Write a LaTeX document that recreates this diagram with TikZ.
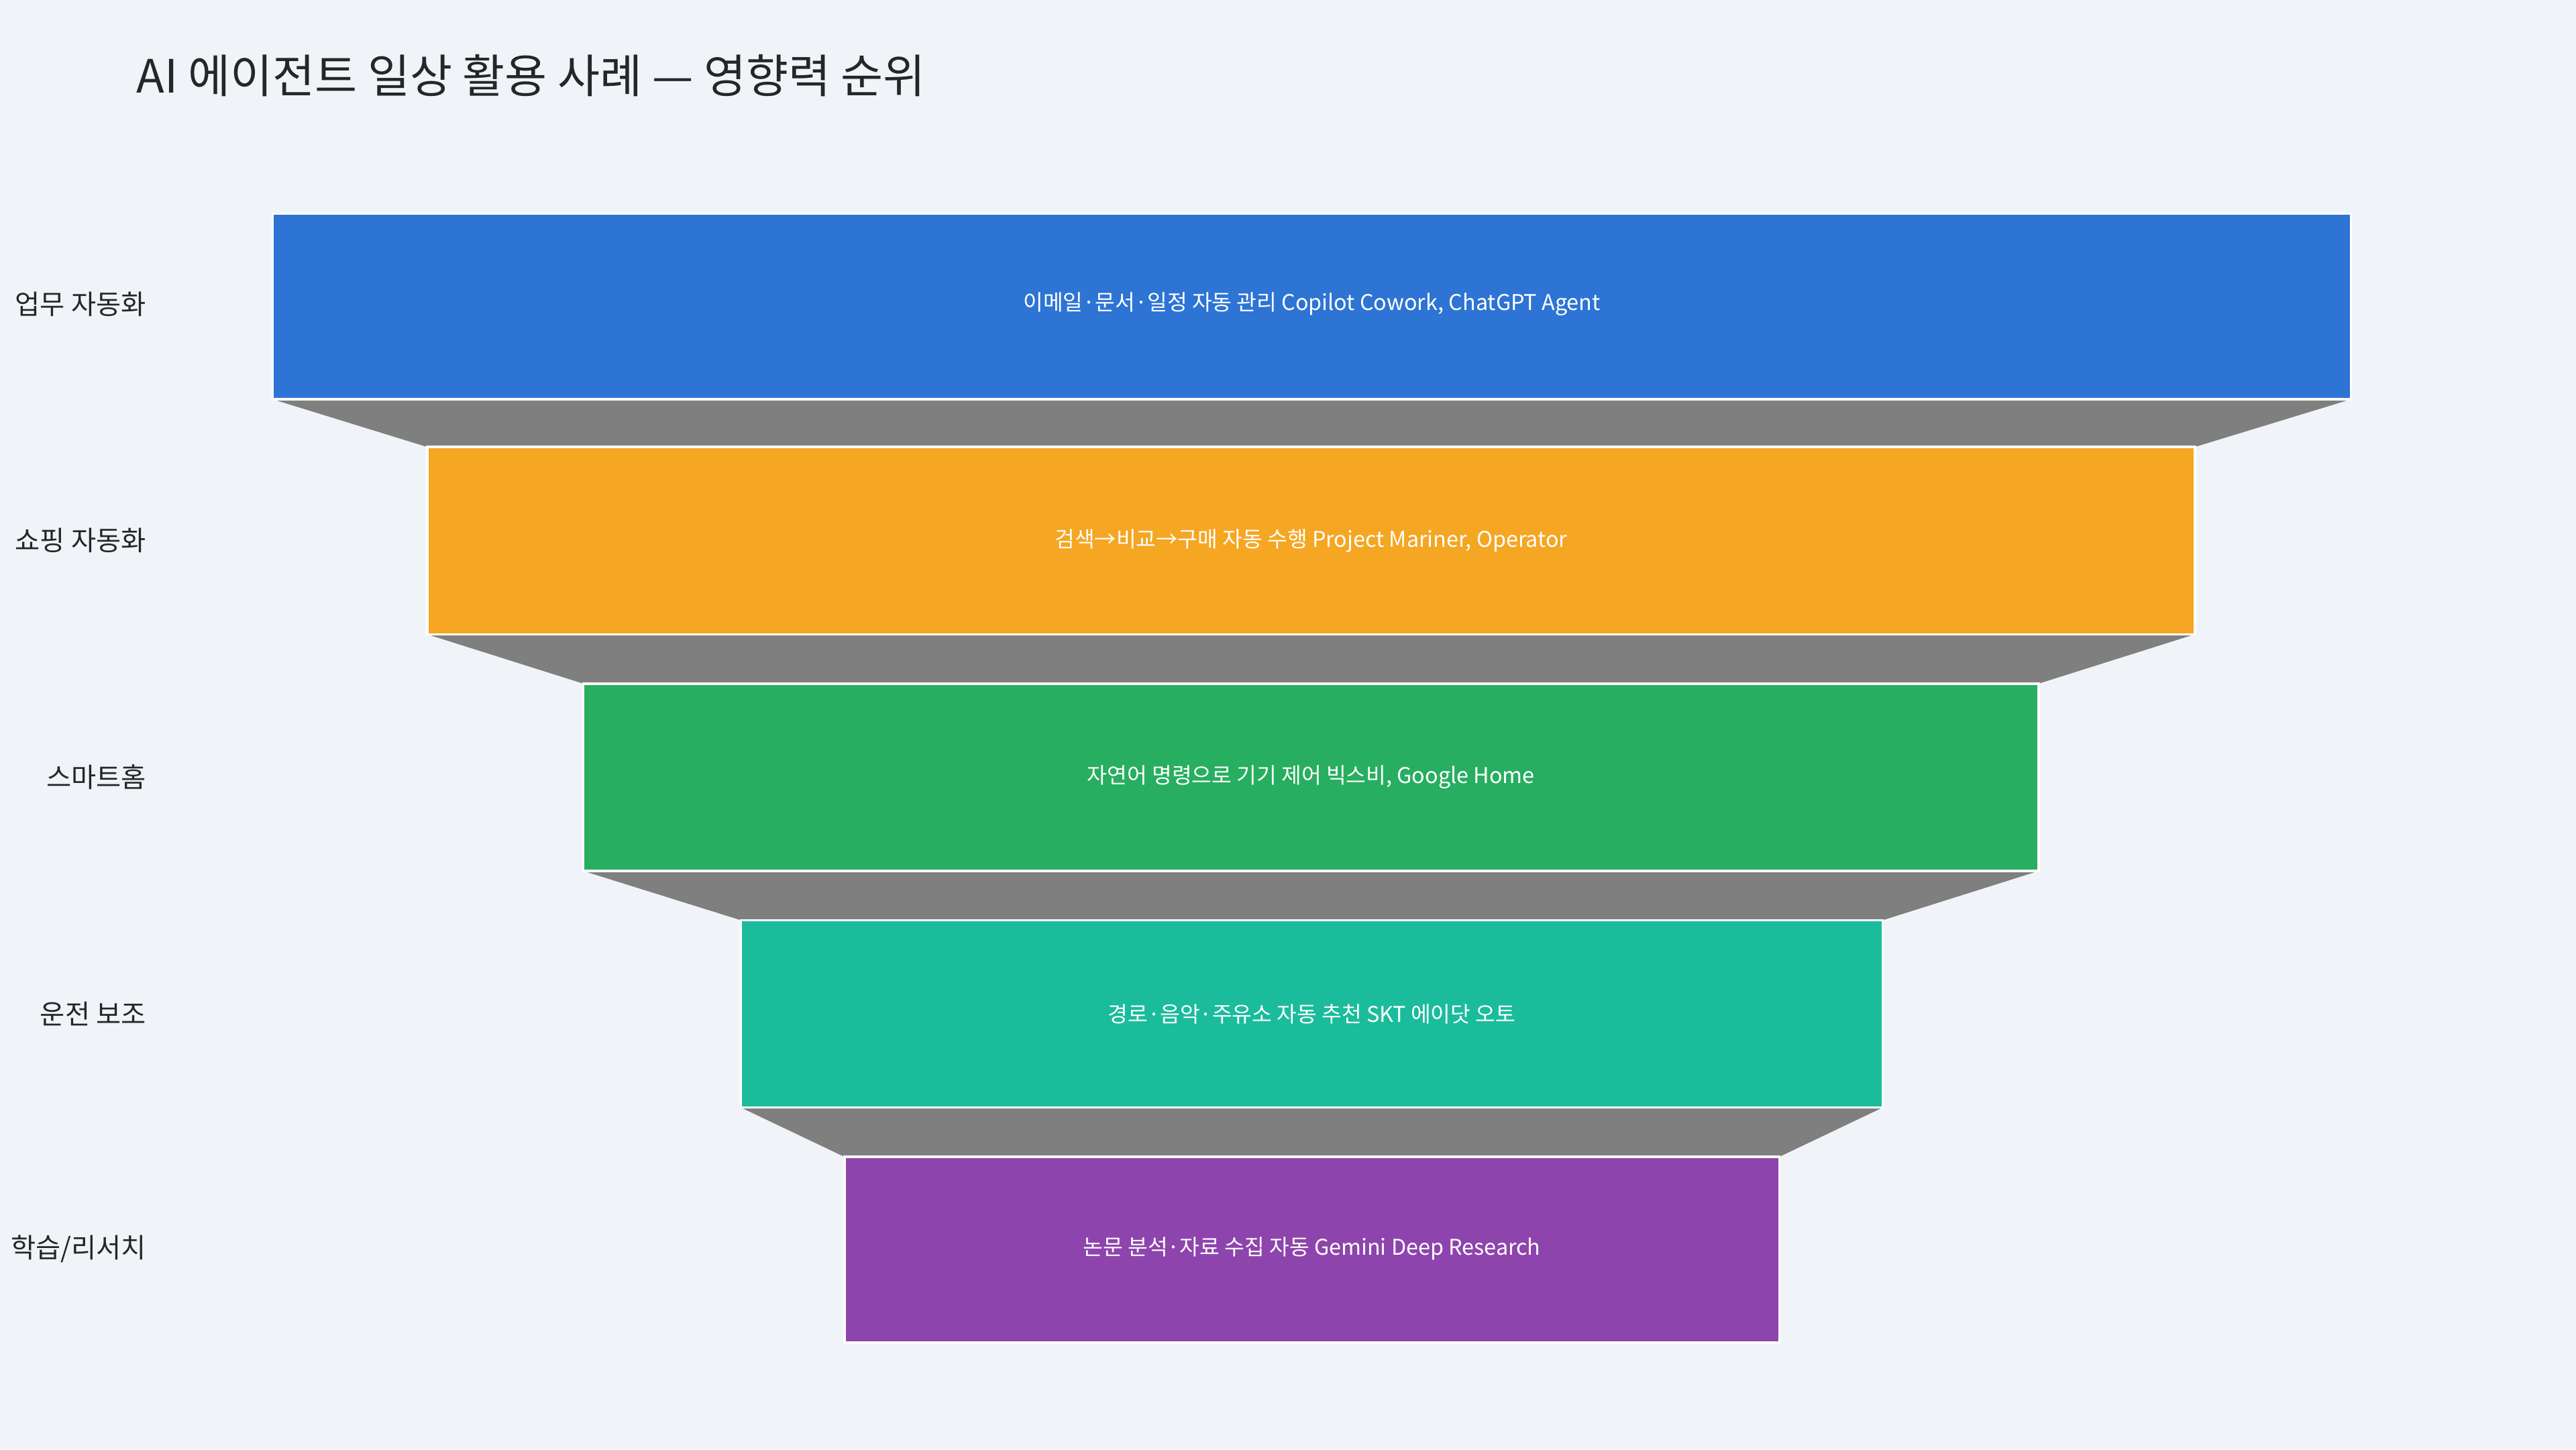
\documentclass[tikz,border=0pt]{standalone}
\usepackage{fontspec}
\setmainfont{Noto Sans CJK KR}
\begin{document}
\begin{tikzpicture}[x=0.024490cm,y=-0.024490cm,
  bar/.style={draw=white,line width=1pt},
  conn/.style={fill=gray!50!black!60,fill=black!50,draw=none},
  lab/.style={anchor=east,font=\fontsize{11.5}{13}\selectfont,text=black!85},
  btxt/.style={text=white,font=\fontsize{9.2}{11}\selectfont}]
\fill[fill={rgb,255:red,240;green,244;blue,248}] (0,0) rectangle (1568,882);
\useasboundingbox (0,0) rectangle (1568,882);
\node[anchor=west,font=\fontsize{19.5}{22}\selectfont,text=black!85] (title) at (78,46) {AI 에이전트 일상 활용 사례 — 영향력 순위};
\definecolor{c1}{HTML}{2D74D4}\definecolor{c2}{HTML}{F5A623}\definecolor{c3}{HTML}{27AE60}
\definecolor{c4}{HTML}{1ABC9C}\definecolor{c5}{HTML}{8E44AD}\definecolor{cg}{HTML}{7F7F7F}
\fill[cg] (166,243) -- (1431,243) -- (1336,272) -- (260,272) -- cycle;
\fill[cg] (260,386) -- (1336,386) -- (1241,416) -- (355,416) -- cycle;
\fill[cg] (355,530) -- (1241,530) -- (1146,560) -- (451,560) -- cycle;
\fill[cg] (451,674) -- (1146,674) -- (1083,704) -- (514,704) -- cycle;
\draw[bar,fill=c1] (166,130) rectangle (1431,243);
\draw[bar,fill=c2] (260,272) rectangle (1336,386);
\draw[bar,fill=c3] (355,416) rectangle (1241,530);
\draw[bar,fill=c4] (451,560) rectangle (1146,674);
\draw[bar,fill=c5] (514,704) rectangle (1083,817);
\node[btxt] (t1) at (798.5,185) {이메일·문서·일정 자동 관리 Copilot Cowork, ChatGPT Agent};
\node[btxt] (t2) at (798,329) {검색→비교→구매 자동 수행 Project Mariner, Operator};
\node[btxt] (t3) at (798,473) {자연어 명령으로 기기 제어 빅스비, Google Home};
\node[btxt] (t4) at (798.5,617) {경로·음악·주유소 자동 추천 SKT 에이닷 오토};
\node[btxt] (t5) at (798.5,760) {논문 분석·자료 수집 자동 Gemini Deep Research};
\node[lab] (l1) at (94,185) {업무 자동화};
\node[lab] (l2) at (94,329) {쇼핑 자동화};
\node[lab] (l3) at (94,473) {스마트홈};
\node[lab] (l4) at (94,617) {운전 보조};
\node[lab] (l5) at (94,760) {학습/리서치};
\end{tikzpicture}
\end{document}
